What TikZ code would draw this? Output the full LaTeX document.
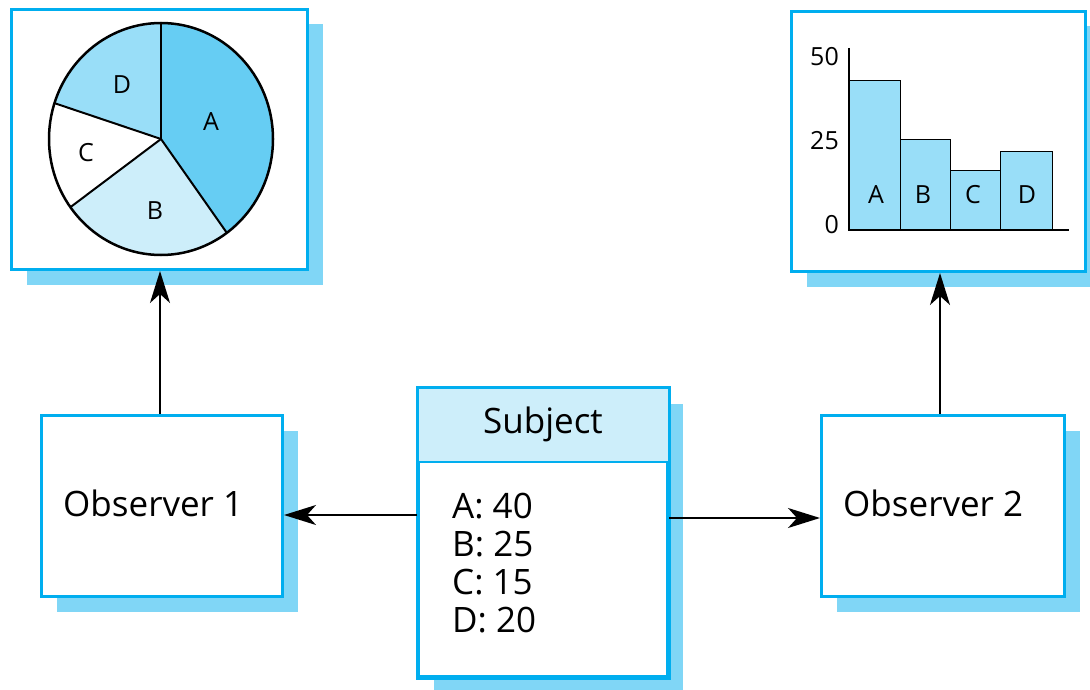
\documentclass[tikz,border=0pt]{standalone}
\usepackage{fontspec}
\setmainfont{Open Sans}
\usetikzlibrary{arrows.meta}
\definecolor{bordercyan}{RGB}{0,174,239}
\definecolor{shadowblue}{RGB}{128,214,246}
\definecolor{sliceA}{RGB}{102,205,243}
\definecolor{sliceB}{RGB}{205,238,250}
\definecolor{sliceD}{RGB}{153,222,248}
\definecolor{barfill}{RGB}{153,222,248}
\definecolor{headfill}{RGB}{205,238,250}
\tikzset{
  box/.style={draw=bordercyan, line width=3pt, fill=white, inner sep=0pt,
    preaction={fill=shadowblue, draw=none, transform canvas={xshift=15pt, yshift=-15pt}}},
  bigtxt/.style={font=\fontsize{35}{42}\selectfont, inner sep=0pt},
  smalltxt/.style={font=\fontsize{25}{30}\selectfont, inner sep=0pt},
  arr/.style={line width=2pt, -{Stealth[length=32pt, width=20pt, inset=9pt]}},
}
\begin{document}
\begin{tikzpicture}[x=1pt, y=-1pt]
\useasboundingbox (0,0) rectangle (1090,690);
% boxes
\node[box, minimum width=296pt, minimum height=260pt] (pie) at (159.5,139.5) {};
\node[box, minimum width=294pt, minimum height=260pt] (bar) at (938.5,141.5) {};
\node[box, minimum width=241pt, minimum height=181pt] (obs1) at (162,506) {};
\node[box, minimum width=243pt, minimum height=181pt] (obs2) at (943,506) {};
\node[box, minimum width=249pt, minimum height=288pt] (subj) at (543,532.5) {};
% subject header
\fill[headfill] ([shift={(1.5pt,-1.5pt)}]subj.north west) rectangle ([xshift=-1.5pt]subj.east |- 0,462);
\draw[bordercyan, line width=2pt] (subj.west |- 0,462) -- (subj.east |- 0,462);
\draw[bordercyan, line width=3pt] (subj.north west) rectangle (subj.south east);
\node[bigtxt, anchor=base] (subjtitle) at (543,433) {Subject};
\node[bigtxt, anchor=base west] (la) at (452,518) {A: 40};
\node[bigtxt, anchor=base west] (lb) at (452,556) {B: 25};
\node[bigtxt, anchor=base west] (lc) at (452,594) {C: 15};
\node[bigtxt, anchor=base west] (ld) at (452,632) {D: 20};
% observers
\node[bigtxt, anchor=base west] (o1t) at (63,516) {Observer 1};
\node[bigtxt, anchor=base west] (o2t) at (843,516) {Observer 2};
% pie chart
\begin{scope}[shift={(161,139)}, yscale=-1]
  \fill[sliceA] (0,0) -- (90:112 and 116) arc[start angle=90, end angle=-54, x radius=112, y radius=116] -- cycle;
  \fill[sliceB] (0,0) -- (-54:112 and 116) arc[start angle=-54, end angle=-144, x radius=112, y radius=116] -- cycle;
  \fill[white] (0,0) -- (-144:112 and 116) arc[start angle=-144, end angle=-198, x radius=112, y radius=116] -- cycle;
  \fill[sliceD] (0,0) -- (-198:112 and 116) arc[start angle=-198, end angle=-270, x radius=112, y radius=116] -- cycle;
  \draw[line width=2pt] (0,0) -- (90:112 and 116);
  \draw[line width=2pt] (0,0) -- (-54:112 and 116);
  \draw[line width=2pt] (0,0) -- (-144:112 and 116);
  \draw[line width=2pt] (0,0) -- (-198:112 and 116);
  \draw[line width=2.5pt] (0,0) ellipse[x radius=112, y radius=116];
  \node[smalltxt] (pa) at (50,17) {A};
  \node[smalltxt] (pb) at (-6,-72) {B};
  \node[smalltxt] (pc) at (-75,-14) {C};
  \node[smalltxt] (pd) at (-39,54) {D};
\end{scope}
% bar chart
\draw[fill=barfill, line width=1pt] (849,230) rectangle (900,81);
\draw[fill=barfill, line width=1pt] (900,230) rectangle (950,140);
\draw[fill=barfill, line width=1pt] (950,230) rectangle (1000,171);
\draw[fill=barfill, line width=1pt] (1000,230) rectangle (1052,152);
\draw[line width=2.5pt] (849,48) -- (849,230) -- (1069,230);
\node[smalltxt] (ba) at (876,195) {A};
\node[smalltxt] (bb) at (923,195) {B};
\node[smalltxt] (bc) at (973,195) {C};
\node[smalltxt] (bd) at (1027,195) {D};
\node[smalltxt, anchor=east] (t50) at (839,57) {50};
\node[smalltxt, anchor=east] (t25) at (839,141) {25};
\node[smalltxt, anchor=east] (t0) at (839,225) {0};
% arrows
\draw[arr] (obs1.north -| 160,0) -- (pie.south -| 160,0);
\draw[arr] (obs2.north -| 940,0) -- (bar.south -| 940,0);
\draw[arr] (subj.west |- 0,515) -- (obs1.east |- 0,515);
\draw[arr] (subj.east |- 0,518) -- (obs2.west |- 0,518);
\end{tikzpicture}
\end{document}
